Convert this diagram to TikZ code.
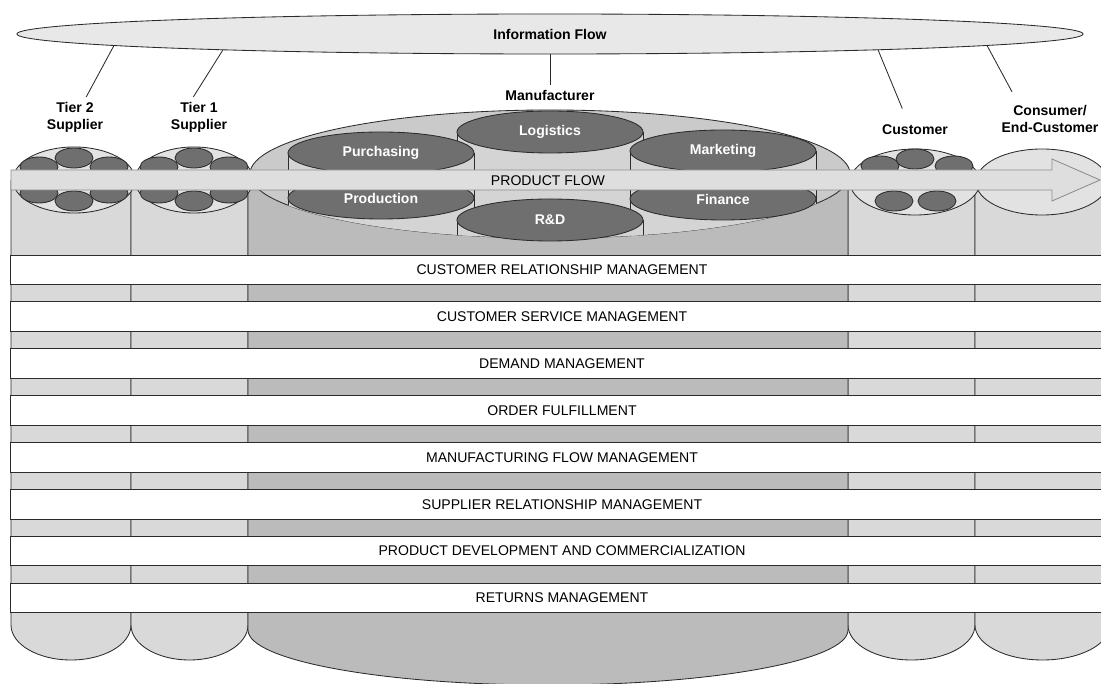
\documentclass[tikz,border=0pt]{standalone}
\usepackage{fontspec}
\setmainfont{Liberation Sans}
\usetikzlibrary{shapes.geometric}

\definecolor{outline}{HTML}{2B2B2B}
\definecolor{collight}{HTML}{D9D9D9}
\definecolor{coldark}{HTML}{BBBBBB}
\definecolor{lensfill}{HTML}{E2E2E2}
\definecolor{podfill}{HTML}{6F6F6F}
\definecolor{bigfill}{HTML}{CACACA}
\definecolor{cylbody}{HTML}{D4D4D4}
\definecolor{flowfill}{HTML}{DEDEDE}
\definecolor{infofill}{HTML}{E8E8E8}

\tikzset{
  column/.style={fill=collight, draw=outline},
  lens/.style={ellipse, fill=lensfill, draw=outline, inner sep=0, minimum height=1.65cm},
  pod/.style={ellipse, fill=podfill, draw=outline, inner sep=0, minimum width=0.95cm, minimum height=0.5cm},
  cyltop/.style={ellipse, fill=podfill, draw=outline, text=white, font=\bfseries,
    inner sep=0, minimum width=4.65cm, minimum height=1.05cm},
  lane/.style={rectangle, fill=white, draw=outline, inner sep=0,
    minimum width=27.55cm, minimum height=0.7375cm},
  who/.style={align=center, font=\bfseries},
}

\begin{document}
\begin{tikzpicture}[x=0.025cm, y=0.025cm, line width=0.6pt]
  \useasboundingbox (0,0) rectangle (1101,684);

  % Column bodies with round bottoms
  \foreach \xa/\xb in {11/131, 131/248, 848/975, 975/1110}
    \path[column] (\xa,504) -- (\xa,59)
      arc[start angle=180, end angle=360, x radius={(\xb-\xa)/2}, y radius=35] -- (\xb,504);
  \path[column, fill=coldark] (248,510) -- (248,54)
    arc[start angle=180, end angle=360, x radius=300, y radius=55] -- (848,510);

  % Supplier, customer and consumer tops
  \node[lens, minimum width=3.05cm] (lens2) at (74,504) {};
  \node[lens, minimum width=2.95cm] (lens1) at (194,504) {};
  \node[lens, minimum width=3.25cm] (lensc) at (915,502) {};
  \node[lens, minimum width=3.3cm] (lense) at (1042,502) {};
  \foreach \cx in {74,194} {
    \foreach \dx/\cy in {-35/517, 35/517, -35/491, 35/491}
      \node[pod] at (\cx+\dx,\cy) {};
    \node[pod] at (\cx,526) {};
    \node[pod] at (\cx,483) {};
  }
  \foreach \cx/\cy in {880/518, 954/518, 915/525, 894/483, 937/483}
    \node[pod] at (\cx,\cy) {};

  % Manufacturer
  \node[ellipse, fill=bigfill, draw=outline, inner sep=0,
    minimum width=15cm, minimum height=3.2cm] (manuell) at (550,510) {};
  \foreach \name/\cx/\cy/\txt in {logi/550/552/Logistics, mark/723/533/Marketing,
      purch/381/531/Purchasing, prod/381/486/Production, fin/723/485/Finance, rnd/550/464/R\&D} {
    \begin{scope}
      \clip (550,510) ellipse [x radius=300, y radius=64];
      \fill[cylbody] (\cx-93,\cy) rectangle (\cx+93,\cy-110);
      \draw[outline] (\cx-93,\cy) -- ++(0,-110) (\cx+93,\cy) -- ++(0,-110);
    \end{scope}
    \node[cyltop] (\name) at (\cx,\cy) {\txt};
  }

  % Product flow arrow
  \path[fill=flowfill, draw=black!45] (11,514) -- (1052,514) -- (1052,525) -- (1100,504)
    -- (1052,483) -- (1052,494) -- (11,494) -- cycle;
  \node (flow) at (548,503) {PRODUCT FLOW};

  % Business processes
  \foreach \i/\name/\txt in {0/crm/CUSTOMER RELATIONSHIP MANAGEMENT,
      1/csm/CUSTOMER SERVICE MANAGEMENT, 2/dem/DEMAND MANAGEMENT, 3/ordf/ORDER FULFILLMENT,
      4/mfm/MANUFACTURING FLOW MANAGEMENT, 5/srm/SUPPLIER RELATIONSHIP MANAGEMENT,
      6/pdc/PRODUCT DEVELOPMENT AND COMMERCIALIZATION, 7/ret/RETURNS MANAGEMENT}
    \node[lane] (\name) at (562,414.25-46.9*\i) {\txt};

  % Information flow
  \node[ellipse, fill=infofill, draw=outline, inner sep=0,
    minimum width=26.65cm, minimum height=1cm, font=\bfseries] (info) at (550,650) {Information Flow};

  % Members of the chain
  \node[who] (tier2) at (75,567) {Tier 2\\Supplier};
  \node[who] (tier1) at (199,567) {Tier 1\\Supplier};
  \node[who] (manu) at (550,589) {Manufacturer};
  \node[who] (cust) at (915,554) {Customer};
  \node[who] (cons) at (1050,565) {Consumer/\\End-Customer};

  \draw[outline] ([shift={(-436,-11.5)}]info.center) -- ([xshift=8pt]tier2.north);
  \draw[outline] ([shift={(-327,-15.8)}]info.center) -- ([xshift=-4pt]tier1.north);
  \draw[outline] (info.south) -- (manu.north);
  \draw[outline] ([shift={(328,-15.8)}]info.center) -- ([xshift=-9pt,yshift=8pt]cust.north);
  \draw[outline] ([shift={(437,-11.45)}]info.center) -- ([xshift=-27pt,yshift=6pt]cons.north);
\end{tikzpicture}
\end{document}
